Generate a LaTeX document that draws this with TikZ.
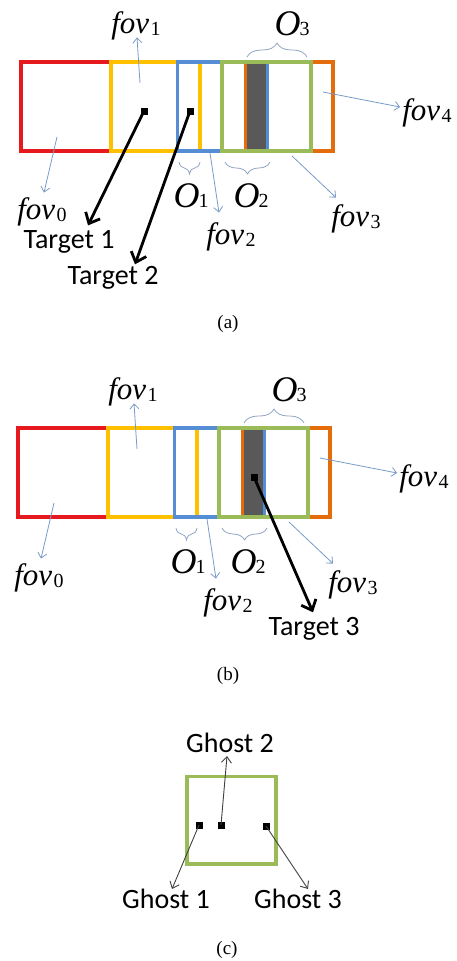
\documentclass[tikz,border=0pt]{standalone}
\usepackage{fontspec}
\setmainfont{Liberation Serif}
\newfontfamily\calibri{Carlito}
\usetikzlibrary{arrows.meta,decorations.pathreplacing}

\definecolor{fovred}{RGB}{230,25,30}
\definecolor{fovyellow}{RGB}{255,192,0}
\definecolor{fovblue}{RGB}{85,142,213}
\definecolor{fovgreen}{RGB}{155,187,89}
\definecolor{fovorange}{RGB}{228,108,10}
\definecolor{overlapgray}{RGB}{89,89,89}
\definecolor{ptrblue}{RGB}{120,155,200}
\definecolor{bracegray}{RGB}{145,165,195}

\newcommand{\fovname}[1]{{\fontsize{31}{31}\selectfont\itshape fov}\kern1.5pt\raisebox{-2pt}{\fontsize{20}{20}\selectfont #1}}
\newcommand{\ovname}[1]{{\fontsize{36}{36}\selectfont\itshape O}\kern-1pt{\fontsize{20}{20}\selectfont #1}}

\tikzset{
  fovbox/.style={line width=3.8pt},
  thinptr/.style={ptrblue, line width=0.8pt, -{Straight Barb[length=5pt,width=9pt]}},
  bigptr/.style={black, line width=2.8pt, -{Straight Barb[length=9pt,width=16pt]}},
  ghostptr/.style={black!75, line width=0.9pt, -{Straight Barb[length=6pt,width=10pt]}},
  obrace/.style={bracegray, line width=0.8pt, decorate, decoration={brace, amplitude=#1}},
  obrace/.default=12pt,
  tgtdot/.style={fill=black, inner sep=0pt, minimum size=7pt},
  lbl/.style={inner sep=0pt},
  tgtlbl/.style={inner sep=0pt, font=\calibri\fontsize{28}{28}\selectfont},
  subcap/.style={inner sep=0pt, font=\fontsize{19}{19}\selectfont},
}

\begin{document}
\begin{tikzpicture}[x=1pt, y=-1pt]
  \useasboundingbox (0,0) rectangle (457,961);

  % one strip of five fields of view, with its labels
  \def\fovstrip{%
    \fill[overlapgray] (245.5,62) rectangle (267.5,151);
    \draw[fovbox, fovred] (21,62) rectangle (111,151);
    \draw[fovbox, fovyellow] (111,62) rectangle (200,151);
    \draw[fovbox, fovblue] (177.5,62) rectangle (267.5,151);
    \draw[fovbox, fovorange] (245.5,62) rectangle (333,151);
    \draw[fovbox, fovgreen] (222,62) rectangle (311,151);

    \node[lbl] (fov0) at (42,212) {\fovname{0}};
    \node[lbl] (fov1) at (136,26) {\fovname{1}};
    \node[lbl] (fov2) at (231,237) {\fovname{2}};
    \node[lbl] (fov3) at (356,219) {\fovname{3}};
    \node[lbl] (fov4) at (427,113) {\fovname{4}};
    \coordinate (in0) at (57,137);
    \coordinate (in1) at (140,83);
    \coordinate (in2) at (210,153);
    \coordinate (in3) at (292,156);
    \coordinate (in4) at (323,92);
    \draw[thinptr] (in0) -- ([xshift=2pt, yshift=5pt]fov0.north);
    \draw[thinptr] (in1) -- ([xshift=1pt, yshift=3pt]fov1.south);
    \draw[thinptr] (in2) -- ([xshift=-12pt, yshift=10pt]fov2.north);
    \draw[thinptr] (in3) -- ([xshift=-20pt, yshift=7pt]fov3.north);
    \draw[thinptr] (in4) -- ([xshift=-2pt, yshift=6pt]fov4.west);

    % overlaps
    \draw[obrace=14pt] (247,57) -- (307,57);
    \draw[obrace] (200,162) -- (179,162);
    \draw[obrace] (270,162) -- (225,162);
    \node[lbl] (ov3) at (292,24) {\ovname{3}};
    \node[lbl] (ov1) at (191,196) {\ovname{1}};
    \node[lbl] (ov2) at (251,196) {\ovname{2}};
  }

  % (a)
  \begin{scope}[name prefix=a-]
    \fovstrip
  \end{scope}
  \node[tgtdot] (sq1) at (144,111) {};
  \node[tgtdot] (sq2) at (190,111) {};
  \node[tgtlbl] (tgt1) at (69,242) {Target 1};
  \node[tgtlbl] (tgt2) at (113,278) {Target 2};
  \draw[bigptr] (sq1.center) -- ([xshift=19pt, yshift=5pt]tgt1.north);
  \draw[bigptr] (sq2.center) -- ([xshift=22pt, yshift=2pt]tgt2.north);
  \node[subcap] (capa) at (228,324) {(a)};

  % (b)
  \begin{scope}[shift={(-3,366)}, name prefix=b-]
    \fovstrip
  \end{scope}
  \node[tgtdot] (sq3) at (254,477) {};
  \node[tgtlbl] (tgt3) at (314,629) {Target 3};
  \draw[bigptr] (sq3.center) -- ([xshift=-1pt, yshift=5pt]tgt3.north);
  \node[subcap] (capb) at (228,676) {(b)};

  % (c)
  \draw[fovbox, fovgreen] (187,776.5) rectangle (276,864);
  \node[tgtdot] (gh1) at (199,825) {};
  \node[tgtdot] (gh2) at (221,825) {};
  \node[tgtdot] (gh3) at (266,826) {};
  \node[tgtlbl] (ghl2) at (230,743) {Ghost 2};
  \node[tgtlbl] (ghl1) at (166,899) {Ghost 1};
  \node[tgtlbl] (ghl3) at (298,899) {Ghost 3};
  \draw[ghostptr] (gh2.center) -- ([xshift=-3pt, yshift=-3pt]ghl2.south);
  \draw[ghostptr] (gh1.center) -- ([xshift=6pt]ghl1.north);
  \draw[ghostptr] (gh3.center) -- ([xshift=10pt]ghl3.north);
  \node[subcap] (capc) at (227,950) {(c)};
\end{tikzpicture}
\end{document}
